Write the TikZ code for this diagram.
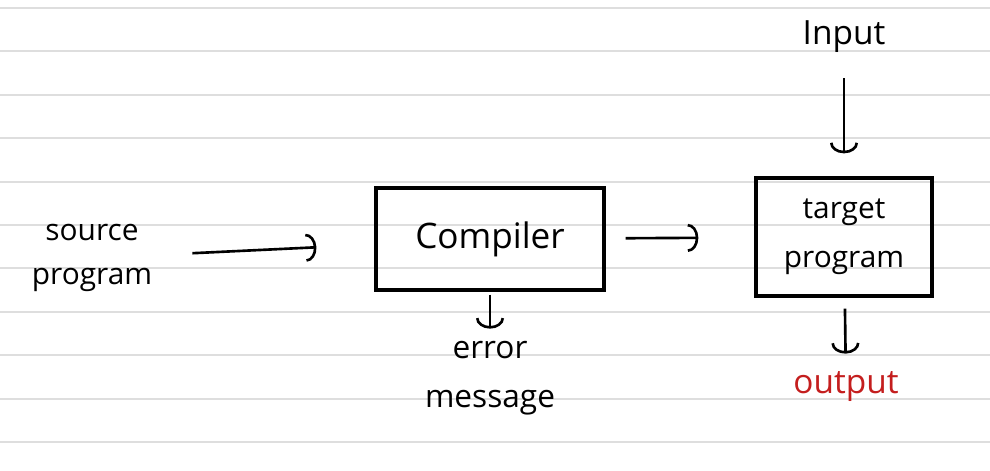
\documentclass[tikz,border=0pt]{standalone}
\usepackage{fontspec}
\setmainfont{Open Sans}
\usepackage{xcolor}
\usetikzlibrary{arrows.meta}
\definecolor{outred}{HTML}{C41E1E}
\definecolor{rule}{HTML}{DEDEDE}

\begin{document}
\begin{tikzpicture}[x=0.02cm,y=-0.02cm,
    hand/.style={font=\fontsize{17}{25}\selectfont, inner sep=0pt, align=center},
    box/.style={draw, line width=1.9pt},
    arr/.style={line width=1.5pt, -{Arc Barb[length=6pt,width=16pt]}}]
    \useasboundingbox (0,0) rectangle (990,470);
    % Ruled lines of the notebook page
    \foreach \k in {0,...,10} {
        \draw[rule, line width=1.1pt] (0,8+43.4*\k) -- (990,8+43.4*\k);
    }
    % Boxes
    \node[box, minimum width=4.56cm, minimum height=2.04cm,
          font=\fontsize{20}{24}\selectfont] (compiler) at (490,239) {Compiler};
    \node[box, minimum width=3.52cm, minimum height=2.36cm, align=center,
          font=\fontsize{17}{28}\selectfont] (target) at (844,237) {target\\program};
    % Labels around the boxes
    \node[hand] (source) at (92,258) {source\\program};
    \node[hand, font=\fontsize{18}{28}\selectfont] (error) at (490,378) {error\\message};
    \node[hand, font=\fontsize{19}{24}\selectfont] (input) at (844,37) {Input};
    \node[hand, text=outred, font=\fontsize{19}{24}\selectfont] (output) at (846,387) {output};
    % Arrows
    \draw[arr, shorten <=0.8cm, shorten >=1.16cm] (source) -- (compiler);
    \draw[arr, shorten <=0.4cm, shorten >=1.12cm] (compiler) -- (target);
    \draw[arr, shorten <=0.06cm, shorten >=0.24cm] (compiler.south) -- (error.north);
    \draw[arr, shorten <=0.5cm, shorten >=0.46cm] (input) -- (target);
    \draw[arr, shorten <=0.22cm, shorten >=0.36cm] (target) -- (output);
\end{tikzpicture}
\end{document}
